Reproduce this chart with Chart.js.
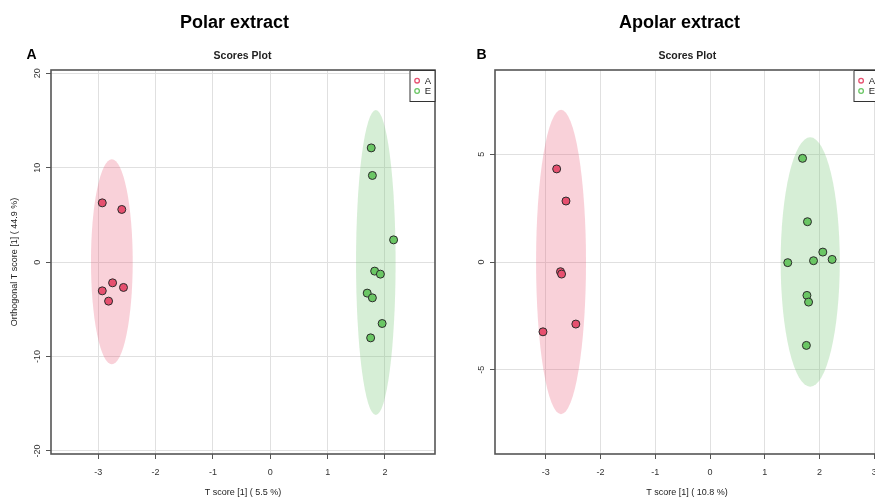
<!DOCTYPE html>
<html><head><meta charset="utf-8">
<script src="https://cdn.jsdelivr.net/npm/chart.js@4.4.1/dist/chart.umd.min.js"></script>
<style>
html,body{margin:0;padding:0;background:#fff;width:875px;height:498px;overflow:hidden;position:relative;font-family:"Liberation Sans",Arial,sans-serif;}
canvas{position:absolute;top:0;}
#c1{left:0}
#c2{left:440px}
.t{position:absolute;white-space:nowrap;color:#000;transform:translateX(-50%);}
.h{font-weight:700;font-size:18px;line-height:18px;top:12.8px;}
.s{font-weight:700;font-size:10.5px;line-height:10.5px;top:49.8px;color:#222;}
.l{position:absolute;white-space:nowrap;font-weight:700;font-size:14px;line-height:14px;top:46.5px;}
</style></head><body>
<canvas id="c1" width="440" height="498"></canvas>
<canvas id="c2" width="445" height="498"></canvas>
<div class="t h" style="left:234.5px">Polar extract</div>
<div class="t h" style="left:679.5px">Apolar extract</div>
<div class="l" style="left:26.5px">A</div>
<div class="l" style="left:476.5px">B</div>
<div class="t s" style="left:242.5px">Scores Plot</div>
<div class="t s" style="left:687.3px">Scores Plot</div>
<script>
// ---- Data: Polar extract ----
const groupLabels = ['A', 'E'];
const polarA_T = [-2.93, -2.59, -2.75, -2.56, -2.93, -2.82];
const polarA_O = [6.28, 5.58, -2.19, -2.68, -3.04, -4.13];
const polarE_T = [1.76, 1.78, 2.15, 1.82, 1.92, 1.69, 1.78, 1.95, 1.75];
const polarE_O = [12.1, 9.18, 2.36, -0.95, -1.27, -3.28, -3.78, -6.5, -8.02];
const polarEllipseT = [-2.763, 1.84];
const polarEllipseO = [0.04, -0.04];
const polarEllipseRT = [0.364, 0.345];
const polarEllipseRO = [10.86, 16.15];
const polarXTicks = [-3, -2, -1, 0, 1, 2];
const polarYTicks = [-20, -10, 0, 10, 20];
const polarXTitle = 'T score [1] ( 5.5 %)';
const polarYTitle = 'Orthogonal T score [1] ( 44.9 %)';

// ---- Data: Apolar extract ----
const apolarA_T = [-2.80, -2.63, -2.73, -2.71, -2.45, -3.05];
const apolarA_O = [4.32, 2.83, -0.45, -0.56, -2.88, -3.24];
const apolarE_T = [1.69, 1.78, 2.06, 1.89, 2.23, 1.42, 1.77, 1.80, 1.76];
const apolarE_O = [4.81, 1.87, 0.46, 0.06, 0.12, -0.03, -1.55, -1.86, -3.87];
const apolarEllipseT = [-2.72, 1.83];
const apolarEllipseO = [0, 0];
const apolarEllipseRT = [0.456, 0.54];
const apolarEllipseRO = [7.06, 5.79];
const apolarXTicks = [-3, -2, -1, 0, 1, 2, 3];
const apolarYTicks = [-5, 0, 5];
const apolarXTitle = 'T score [1] ( 10.8 %)';

const COL_A = '#E6506F', COL_E = '#6AC664';
const FILL_A = 'rgba(235,90,120,0.28)', FILL_E = 'rgba(120,200,120,0.3)';
const FAM = '"Liberation Sans", Arial, sans-serif';

const zip = (xs, ys) => xs.map((v, i) => ({x: v, y: ys[i]}));

const boxPlugin = {
  id: 'box',
  beforeDatasetsDraw(chart, args, o) {
    const {ctx, chartArea: a, scales: {x, y}} = chart;
    ctx.save();
    ctx.beginPath(); ctx.rect(a.left, a.top, a.right - a.left, a.bottom - a.top); ctx.clip();
    o.eT.forEach((t, i) => {
      const cx = x.getPixelForValue(t), cy = y.getPixelForValue(o.eO[i]);
      const rx = Math.abs(x.getPixelForValue(t + o.eRT[i]) - cx);
      const ry = Math.abs(y.getPixelForValue(o.eO[i] + o.eRO[i]) - cy);
      ctx.beginPath(); ctx.ellipse(cx, cy, rx, ry, 0, 0, Math.PI * 2);
      ctx.fillStyle = o.fills[i]; ctx.fill();
    });
    ctx.restore();
  },
  afterDraw(chart, args, o) {
    const {ctx, chartArea: a, scales: {y}} = chart;
    ctx.save();
    ctx.strokeStyle = '#555'; ctx.lineWidth = 1.6;
    ctx.strokeRect(a.left, a.top, a.right - a.left, a.bottom - a.top);
    ctx.font = '9px ' + FAM; ctx.fillStyle = '#333'; ctx.textAlign = 'center'; ctx.textBaseline = 'middle';
    y.ticks.forEach(t => {
      const py = y.getPixelForValue(t.value);
      ctx.save(); ctx.translate(a.left - 13, py); ctx.rotate(-Math.PI / 2);
      ctx.fillText(String(t.value), 0, 0); ctx.restore();
    });
    const w = 25.5, h = 31.5, lx = a.right - w, ly = a.top;
    ctx.fillStyle = '#fff'; ctx.fillRect(lx, ly, w, h);
    ctx.strokeStyle = '#333'; ctx.lineWidth = 1; ctx.strokeRect(lx + 0.5, ly + 0.5, w - 0.5, h - 0.5);
    chart.data.datasets.forEach((ds, i) => {
      const cy = ly + 10.7 + i * 10.3;
      ctx.beginPath(); ctx.arc(lx + 7.6, cy, 2.3, 0, Math.PI * 2);
      ctx.strokeStyle = ds.backgroundColor; ctx.lineWidth = 1.3; ctx.stroke();
      ctx.fillStyle = '#222'; ctx.textAlign = 'left'; ctx.textBaseline = 'middle';
      ctx.font = '9.5px ' + FAM;
      ctx.fillText(ds.label, lx + 15.3, cy + 0.5);
    });
    ctx.restore();
  }
};

function makeChart(id, c) {
  const ds = (lab, xs, ys, col) => ({
    label: lab, data: zip(xs, ys), backgroundColor: col, borderColor: '#2b2b2b',
    borderWidth: 1, pointRadius: 4, pointHoverRadius: 4
  });
  return new Chart(document.getElementById(id), {
    type: 'scatter',
    data: {datasets: [ds(groupLabels[0], c.aT, c.aO, COL_A), ds(groupLabels[1], c.eT, c.eO, COL_E)]},
    options: {
      responsive: false, animation: false, devicePixelRatio: 1,
      events: [],
      layout: {padding: {left: 0, right: c.padRight, top: 70, bottom: 0}},
      plugins: {
        legend: {display: false}, tooltip: {enabled: false},
        box: {eT: c.elT, eO: c.elO, eRT: c.elRT, eRO: c.elRO, fills: [FILL_A, FILL_E]}
      },
      scales: {
        x: {
          type: 'linear', min: c.xMin, max: c.xMax,
          afterBuildTicks: s => { s.ticks = c.xTicks.map(v => ({value: v})); },
          afterFit: s => { s.height = 44; },
          grid: {color: '#e0e0e0', tickColor: '#555', tickLength: 5, lineWidth: 1},
          border: {display: false},
          ticks: {font: {size: 9, family: FAM}, color: '#333', padding: 8, maxRotation: 0, autoSkip: false},
          title: {display: true, text: c.xTitle, font: {size: 9, family: FAM}, color: '#222', padding: {top: 0, bottom: 0}}
        },
        y: {
          type: 'linear', min: c.yMin, max: c.yMax,
          afterBuildTicks: s => { s.ticks = c.yTicks.map(v => ({value: v})); },
          afterFit: s => { s.width = c.yWidth; },
          grid: {color: '#e0e0e0', tickColor: '#555', tickLength: 5, lineWidth: 1},
          border: {display: false},
          ticks: {display: false},
          title: {display: !!c.yTitle, text: c.yTitle || '', font: {size: 9, family: FAM}, color: '#222', padding: {top: 9.6, bottom: 0}}
        }
      }
    },
    plugins: [boxPlugin]
  });
}

makeChart('c1', {
  aT: polarA_T, aO: polarA_O, eT: polarE_T, eO: polarE_O,
  elT: polarEllipseT, elO: polarEllipseO, elRT: polarEllipseRT, elRO: polarEllipseRO,
  xTicks: polarXTicks, yTicks: polarYTicks, xTitle: polarXTitle, yTitle: polarYTitle,
  xMin: -3.824, xMax: 2.872, yMin: -20.32, yMax: 20.35, yWidth: 51, padRight: 5
});
makeChart('c2', {
  aT: apolarA_T, aO: apolarA_O, eT: apolarE_T, eO: apolarE_O,
  elT: apolarEllipseT, elO: apolarEllipseO, elRT: apolarEllipseRT, elRO: apolarEllipseRO,
  xTicks: apolarXTicks, yTicks: apolarYTicks, xTitle: apolarXTitle, yTitle: '',
  xMin: -3.926, xMax: 3.086, yMin: -8.91, yMax: 8.91, yWidth: 55, padRight: 6
});
</script>
</body></html>
